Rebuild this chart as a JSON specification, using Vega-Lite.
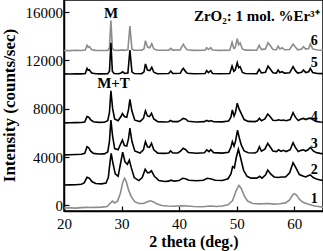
{
  "$schema": "https://vega.github.io/schema/vega-lite/v6.json",
  "autosize": "none",
  "width": 259,
  "height": 211,
  "padding": {"left": 64, "top": 0, "right": 0, "bottom": 40},
  "background": "white",
  "config": {
    "view": {"stroke": "#000", "strokeWidth": 1.5},
    "font": "Liberation Serif",
    "axis": {
      "domainColor": "#000", "domainWidth": 1.5, "tickColor": "#000", "tickWidth": 1.2, "tickSize": -5,
      "labelFont": "Liberation Serif", "labelFontSize": 15, "labelColor": "#000",
      "titleFont": "Liberation Serif", "titleFontSize": 16, "titleFontWeight": "bold", "titleColor": "#000",
      "grid": false, "labelOverlap": false, "labelFlush": false
    }
  },
  "datasets": {
    "xrd": [
      {"s":"6","x":20,"y":12820},{"s":"6","x":21,"y":12810},{"s":"6","x":22,"y":12835},{"s":"6","x":23,"y":12820},{"s":"6","x":23.7,"y":12850},{"s":"6","x":24.0,"y":13250},{"s":"6","x":24.2,"y":13100},{"s":"6","x":24.4,"y":13150},{"s":"6","x":24.8,"y":12880},{"s":"6","x":25.5,"y":12830},{"s":"6","x":26.5,"y":12820},{"s":"6","x":27.6,"y":12830},{"s":"6","x":27.9,"y":13000},{"s":"6","x":28.15,"y":15300},{"s":"6","x":28.4,"y":13000},{"s":"6","x":28.7,"y":12850},{"s":"6","x":29.5,"y":12830},{"s":"6","x":30.1,"y":12870},{"s":"6","x":30.4,"y":12830},{"s":"6","x":31.1,"y":12870},{"s":"6","x":31.45,"y":14850},{"s":"6","x":31.8,"y":12950},{"s":"6","x":32.2,"y":12840},{"s":"6","x":33.5,"y":12840},{"s":"6","x":33.9,"y":12950},{"s":"6","x":34.15,"y":13630},{"s":"6","x":34.5,"y":13100},{"s":"6","x":34.9,"y":13050},{"s":"6","x":35.25,"y":13380},{"s":"6","x":35.6,"y":12950},{"s":"6","x":36.2,"y":12840},{"s":"6","x":38.2,"y":12850},{"s":"6","x":38.55,"y":13000},{"s":"6","x":38.9,"y":12850},{"s":"6","x":40.2,"y":12870},{"s":"6","x":40.5,"y":13150},{"s":"6","x":40.75,"y":13330},{"s":"6","x":41.0,"y":13100},{"s":"6","x":41.4,"y":12880},{"s":"6","x":42.5,"y":12830},{"s":"6","x":44.5,"y":12850},{"s":"6","x":44.8,"y":13050},{"s":"6","x":45.1,"y":12900},{"s":"6","x":45.5,"y":13050},{"s":"6","x":45.8,"y":12860},{"s":"6","x":47,"y":12830},{"s":"6","x":48.8,"y":12850},{"s":"6","x":49.2,"y":13500},{"s":"6","x":49.5,"y":13000},{"s":"6","x":49.75,"y":13050},{"s":"6","x":50.1,"y":13800},{"s":"6","x":50.35,"y":13300},{"s":"6","x":50.6,"y":13450},{"s":"6","x":51.0,"y":12950},{"s":"6","x":51.5,"y":12850},{"s":"6","x":53.5,"y":12840},{"s":"6","x":53.9,"y":13250},{"s":"6","x":54.3,"y":12900},{"s":"6","x":55.0,"y":12950},{"s":"6","x":55.45,"y":13450},{"s":"6","x":55.8,"y":13250},{"s":"6","x":56.3,"y":12900},{"s":"6","x":56.9,"y":12880},{"s":"6","x":57.2,"y":13180},{"s":"6","x":57.5,"y":12950},{"s":"6","x":57.9,"y":13050},{"s":"6","x":58.3,"y":12880},{"s":"6","x":59.2,"y":12900},{"s":"6","x":59.8,"y":13350},{"s":"6","x":60.2,"y":13100},{"s":"6","x":60.6,"y":12880},{"s":"6","x":61.3,"y":12950},{"s":"6","x":61.6,"y":13130},{"s":"6","x":62.0,"y":12930},{"s":"6","x":62.5,"y":12980},{"s":"6","x":62.8,"y":13350},{"s":"6","x":63.2,"y":12950},{"s":"6","x":64,"y":12860},{"s":"6","x":65,"y":12840},

      {"s":"5","x":20,"y":10880},{"s":"5","x":21,"y":10870},{"s":"5","x":22,"y":10890},{"s":"5","x":23,"y":10880},{"s":"5","x":23.7,"y":10920},{"s":"5","x":24.0,"y":11340},{"s":"5","x":24.2,"y":11180},{"s":"5","x":24.4,"y":11220},{"s":"5","x":24.8,"y":10950},{"s":"5","x":25.5,"y":10890},{"s":"5","x":26.5,"y":10880},{"s":"5","x":27.6,"y":10900},{"s":"5","x":27.9,"y":11100},{"s":"5","x":28.15,"y":13460},{"s":"5","x":28.4,"y":11100},{"s":"5","x":28.7,"y":10920},{"s":"5","x":29.5,"y":10900},{"s":"5","x":29.9,"y":10960},{"s":"5","x":30.2,"y":11060},{"s":"5","x":30.5,"y":10930},{"s":"5","x":31.1,"y":10960},{"s":"5","x":31.45,"y":12860},{"s":"5","x":31.8,"y":11050},{"s":"5","x":32.2,"y":10910},{"s":"5","x":33.5,"y":10900},{"s":"5","x":33.9,"y":11050},{"s":"5","x":34.15,"y":11700},{"s":"5","x":34.5,"y":11200},{"s":"5","x":34.9,"y":11150},{"s":"5","x":35.25,"y":11430},{"s":"5","x":35.6,"y":11020},{"s":"5","x":36.2,"y":10900},{"s":"5","x":38.2,"y":10910},{"s":"5","x":38.55,"y":11120},{"s":"5","x":38.9,"y":10920},{"s":"5","x":40.2,"y":10930},{"s":"5","x":40.5,"y":11200},{"s":"5","x":40.75,"y":11340},{"s":"5","x":41.0,"y":11150},{"s":"5","x":41.4,"y":10940},{"s":"5","x":42.5,"y":10890},{"s":"5","x":44.5,"y":10910},{"s":"5","x":44.8,"y":11150},{"s":"5","x":45.1,"y":10980},{"s":"5","x":45.5,"y":11150},{"s":"5","x":45.8,"y":10920},{"s":"5","x":47,"y":10890},{"s":"5","x":48.8,"y":10910},{"s":"5","x":49.2,"y":11530},{"s":"5","x":49.5,"y":11100},{"s":"5","x":49.75,"y":11200},{"s":"5","x":50.1,"y":11810},{"s":"5","x":50.35,"y":11400},{"s":"5","x":50.6,"y":11480},{"s":"5","x":51.0,"y":11000},{"s":"5","x":51.5,"y":10910},{"s":"5","x":53.5,"y":10900},{"s":"5","x":53.9,"y":11260},{"s":"5","x":54.3,"y":10960},{"s":"5","x":55.0,"y":11020},{"s":"5","x":55.45,"y":11530},{"s":"5","x":55.8,"y":11300},{"s":"5","x":56.3,"y":10970},{"s":"5","x":56.9,"y":10950},{"s":"5","x":57.2,"y":11200},{"s":"5","x":57.5,"y":11000},{"s":"5","x":57.9,"y":11060},{"s":"5","x":58.3,"y":10950},{"s":"5","x":59.2,"y":10970},{"s":"5","x":59.8,"y":11480},{"s":"5","x":60.2,"y":11150},{"s":"5","x":60.6,"y":10950},{"s":"5","x":61.3,"y":11020},{"s":"5","x":61.6,"y":11200},{"s":"5","x":62.0,"y":10990},{"s":"5","x":62.5,"y":11050},{"s":"5","x":62.8,"y":11340},{"s":"5","x":63.2,"y":11000},{"s":"5","x":64,"y":10920},{"s":"5","x":65,"y":10900},

      {"s":"4","x":20,"y":6830},{"s":"4","x":21,"y":6840},{"s":"4","x":22,"y":6850},{"s":"4","x":23,"y":6860},{"s":"4","x":23.6,"y":6900},{"s":"4","x":24.0,"y":7350},{"s":"4","x":24.3,"y":7300},{"s":"4","x":24.6,"y":7100},{"s":"4","x":25.1,"y":6920},{"s":"4","x":26,"y":6870},{"s":"4","x":27,"y":6880},{"s":"4","x":27.6,"y":7000},{"s":"4","x":27.9,"y":7700},{"s":"4","x":28.15,"y":9490},{"s":"4","x":28.45,"y":8000},{"s":"4","x":28.8,"y":7150},{"s":"4","x":29.4,"y":7000},{"s":"4","x":29.9,"y":7350},{"s":"4","x":30.15,"y":7600},{"s":"4","x":30.5,"y":7350},{"s":"4","x":30.9,"y":7300},{"s":"4","x":31.2,"y":7900},{"s":"4","x":31.45,"y":8780},{"s":"4","x":31.8,"y":7800},{"s":"4","x":32.3,"y":7050},{"s":"4","x":33.2,"y":6930},{"s":"4","x":33.8,"y":7200},{"s":"4","x":34.15,"y":7830},{"s":"4","x":34.5,"y":7400},{"s":"4","x":34.85,"y":7350},{"s":"4","x":35.2,"y":7620},{"s":"4","x":35.6,"y":7150},{"s":"4","x":36.3,"y":6930},{"s":"4","x":37.5,"y":6900},{"s":"4","x":38.2,"y":6920},{"s":"4","x":38.5,"y":7020},{"s":"4","x":38.9,"y":6930},{"s":"4","x":39.8,"y":6930},{"s":"4","x":40.3,"y":7050},{"s":"4","x":40.7,"y":7200},{"s":"4","x":41.1,"y":7150},{"s":"4","x":41.6,"y":6960},{"s":"4","x":43,"y":6900},{"s":"4","x":44.4,"y":6930},{"s":"4","x":44.8,"y":7030},{"s":"4","x":45.2,"y":6950},{"s":"4","x":45.5,"y":7020},{"s":"4","x":46,"y":6920},{"s":"4","x":47.5,"y":6910},{"s":"4","x":48.6,"y":6980},{"s":"4","x":49.0,"y":7300},{"s":"4","x":49.25,"y":7890},{"s":"4","x":49.55,"y":7400},{"s":"4","x":49.8,"y":7700},{"s":"4","x":50.1,"y":8450},{"s":"4","x":50.4,"y":8000},{"s":"4","x":50.8,"y":7600},{"s":"4","x":51.3,"y":7100},{"s":"4","x":52,"y":6950},{"s":"4","x":53.2,"y":6930},{"s":"4","x":53.6,"y":7000},{"s":"4","x":53.95,"y":7200},{"s":"4","x":54.3,"y":7000},{"s":"4","x":54.9,"y":7150},{"s":"4","x":55.4,"y":7560},{"s":"4","x":55.8,"y":7350},{"s":"4","x":56.3,"y":7050},{"s":"4","x":56.9,"y":7020},{"s":"4","x":57.3,"y":7080},{"s":"4","x":57.7,"y":7020},{"s":"4","x":58.1,"y":7060},{"s":"4","x":58.6,"y":7000},{"s":"4","x":59.3,"y":7100},{"s":"4","x":59.8,"y":7670},{"s":"4","x":60.2,"y":7300},{"s":"4","x":60.7,"y":7020},{"s":"4","x":61.2,"y":7150},{"s":"4","x":61.6,"y":7200},{"s":"4","x":62,"y":7100},{"s":"4","x":62.4,"y":7180},{"s":"4","x":62.8,"y":7220},{"s":"4","x":63.3,"y":7080},{"s":"4","x":63.8,"y":6950},{"s":"4","x":64.5,"y":6900},{"s":"4","x":65,"y":6880},

      {"s":"3","x":20,"y":4180},{"s":"3","x":21,"y":4190},{"s":"3","x":22,"y":4210},{"s":"3","x":23,"y":4230},{"s":"3","x":23.6,"y":4300},{"s":"3","x":24.0,"y":4850},{"s":"3","x":24.3,"y":4760},{"s":"3","x":24.6,"y":4500},{"s":"3","x":25.1,"y":4300},{"s":"3","x":26,"y":4250},{"s":"3","x":27,"y":4260},{"s":"3","x":27.6,"y":4420},{"s":"3","x":27.9,"y":5300},{"s":"3","x":28.15,"y":7060},{"s":"3","x":28.45,"y":5700},{"s":"3","x":28.8,"y":4700},{"s":"3","x":29.4,"y":4600},{"s":"3","x":29.85,"y":5100},{"s":"3","x":30.15,"y":5400},{"s":"3","x":30.5,"y":4950},{"s":"3","x":30.9,"y":4900},{"s":"3","x":31.2,"y":5500},{"s":"3","x":31.45,"y":6400},{"s":"3","x":31.8,"y":5300},{"s":"3","x":32.3,"y":4500},{"s":"3","x":33.2,"y":4330},{"s":"3","x":33.8,"y":4600},{"s":"3","x":34.15,"y":5270},{"s":"3","x":34.5,"y":4850},{"s":"3","x":34.85,"y":4800},{"s":"3","x":35.2,"y":5130},{"s":"3","x":35.6,"y":4600},{"s":"3","x":36.3,"y":4320},{"s":"3","x":37.5,"y":4300},{"s":"3","x":38.2,"y":4330},{"s":"3","x":38.5,"y":4500},{"s":"3","x":38.9,"y":4340},{"s":"3","x":39.8,"y":4330},{"s":"3","x":40.3,"y":4500},{"s":"3","x":40.7,"y":4720},{"s":"3","x":41.1,"y":4620},{"s":"3","x":41.6,"y":4380},{"s":"3","x":43,"y":4310},{"s":"3","x":44.4,"y":4350},{"s":"3","x":44.8,"y":4600},{"s":"3","x":45.2,"y":4450},{"s":"3","x":45.5,"y":4600},{"s":"3","x":46,"y":4360},{"s":"3","x":47.5,"y":4320},{"s":"3","x":48.6,"y":4400},{"s":"3","x":49.0,"y":4800},{"s":"3","x":49.25,"y":5270},{"s":"3","x":49.55,"y":4900},{"s":"3","x":49.8,"y":5300},{"s":"3","x":50.15,"y":6230},{"s":"3","x":50.45,"y":5600},{"s":"3","x":50.8,"y":5000},{"s":"3","x":51.3,"y":4500},{"s":"3","x":52,"y":4350},{"s":"3","x":53.2,"y":4330},{"s":"3","x":53.6,"y":4450},{"s":"3","x":53.95,"y":4850},{"s":"3","x":54.3,"y":4480},{"s":"3","x":54.9,"y":4650},{"s":"3","x":55.4,"y":5130},{"s":"3","x":55.8,"y":4850},{"s":"3","x":56.3,"y":4500},{"s":"3","x":56.9,"y":4450},{"s":"3","x":57.3,"y":4600},{"s":"3","x":57.7,"y":4470},{"s":"3","x":58.1,"y":4550},{"s":"3","x":58.6,"y":4450},{"s":"3","x":59.3,"y":4600},{"s":"3","x":59.8,"y":5180},{"s":"3","x":60.2,"y":4800},{"s":"3","x":60.7,"y":4450},{"s":"3","x":61.2,"y":4550},{"s":"3","x":61.6,"y":4600},{"s":"3","x":62,"y":4500},{"s":"3","x":62.4,"y":4600},{"s":"3","x":62.8,"y":4800},{"s":"3","x":63.3,"y":4500},{"s":"3","x":63.8,"y":4380},{"s":"3","x":64.5,"y":4300},{"s":"3","x":65,"y":4280},

      {"s":"2","x":20,"y":1680},{"s":"2","x":21,"y":1690},{"s":"2","x":22,"y":1700},{"s":"2","x":23,"y":1740},{"s":"2","x":23.5,"y":1850},{"s":"2","x":24.0,"y":2320},{"s":"2","x":24.4,"y":2250},{"s":"2","x":24.9,"y":1950},{"s":"2","x":25.5,"y":1800},{"s":"2","x":26.5,"y":1780},{"s":"2","x":27.3,"y":1850},{"s":"2","x":27.7,"y":2300},{"s":"2","x":28.0,"y":3600},{"s":"2","x":28.2,"y":4300},{"s":"2","x":28.5,"y":3500},{"s":"2","x":28.9,"y":2600},{"s":"2","x":29.4,"y":2400},{"s":"2","x":29.8,"y":3400},{"s":"2","x":30.2,"y":4400},{"s":"2","x":30.6,"y":3600},{"s":"2","x":31.0,"y":3400},{"s":"2","x":31.35,"y":3750},{"s":"2","x":31.7,"y":3100},{"s":"2","x":32.2,"y":2300},{"s":"2","x":33.0,"y":2050},{"s":"2","x":33.6,"y":2300},{"s":"2","x":34.1,"y":2980},{"s":"2","x":34.5,"y":2700},{"s":"2","x":34.8,"y":2700},{"s":"2","x":35.2,"y":2860},{"s":"2","x":35.7,"y":2400},{"s":"2","x":36.5,"y":2050},{"s":"2","x":37.5,"y":1970},{"s":"2","x":38.2,"y":2000},{"s":"2","x":38.6,"y":2080},{"s":"2","x":39.1,"y":2000},{"s":"2","x":40,"y":2050},{"s":"2","x":40.6,"y":2240},{"s":"2","x":41.1,"y":2200},{"s":"2","x":41.7,"y":2080},{"s":"2","x":43,"y":2030},{"s":"2","x":44.2,"y":2080},{"s":"2","x":44.9,"y":2240},{"s":"2","x":45.6,"y":2180},{"s":"2","x":46.3,"y":2080},{"s":"2","x":47.5,"y":2060},{"s":"2","x":48.5,"y":2200},{"s":"2","x":49.0,"y":2600},{"s":"2","x":49.3,"y":3200},{"s":"2","x":49.6,"y":3100},{"s":"2","x":49.95,"y":4000},{"s":"2","x":50.3,"y":4640},{"s":"2","x":50.7,"y":3900},{"s":"2","x":51.2,"y":2900},{"s":"2","x":51.8,"y":2400},{"s":"2","x":52.5,"y":2250},{"s":"2","x":53.5,"y":2250},{"s":"2","x":54.0,"y":2400},{"s":"2","x":54.4,"y":2250},{"s":"2","x":55.0,"y":2500},{"s":"2","x":55.4,"y":2920},{"s":"2","x":55.9,"y":2600},{"s":"2","x":56.5,"y":2350},{"s":"2","x":57.2,"y":2300},{"s":"2","x":57.8,"y":2350},{"s":"2","x":58.5,"y":2350},{"s":"2","x":59.2,"y":2700},{"s":"2","x":59.8,"y":3530},{"s":"2","x":60.3,"y":3100},{"s":"2","x":60.9,"y":2550},{"s":"2","x":61.5,"y":2430},{"s":"2","x":62.0,"y":2350},{"s":"2","x":62.4,"y":2450},{"s":"2","x":62.8,"y":2510},{"s":"2","x":63.3,"y":2300},{"s":"2","x":64,"y":2150},{"s":"2","x":65,"y":2050},

      {"s":"1","x":20,"y":-220},{"s":"1","x":21,"y":-200},{"s":"1","x":22,"y":-230},{"s":"1","x":23,"y":-190},{"s":"1","x":24,"y":-170},{"s":"1","x":24.5,"y":-180},{"s":"1","x":25.5,"y":-170},{"s":"1","x":26.5,"y":-150},{"s":"1","x":27.5,"y":-100},{"s":"1","x":28.0,"y":150},{"s":"1","x":28.4,"y":350},{"s":"1","x":28.8,"y":200},{"s":"1","x":29.3,"y":350},{"s":"1","x":29.8,"y":1000},{"s":"1","x":30.2,"y":1900},{"s":"1","x":30.5,"y":2240},{"s":"1","x":30.8,"y":2000},{"s":"1","x":31.2,"y":1300},{"s":"1","x":31.7,"y":700},{"s":"1","x":32.3,"y":300},{"s":"1","x":33.0,"y":150},{"s":"1","x":33.8,"y":150},{"s":"1","x":34.5,"y":300},{"s":"1","x":35.0,"y":380},{"s":"1","x":35.5,"y":300},{"s":"1","x":36.2,"y":100},{"s":"1","x":37,"y":-20},{"s":"1","x":38,"y":-60},{"s":"1","x":39,"y":-80},{"s":"1","x":40.5,"y":-30},{"s":"1","x":41.5,"y":-60},{"s":"1","x":42.5,"y":-100},{"s":"1","x":44,"y":-120},{"s":"1","x":45.5,"y":-60},{"s":"1","x":46.5,"y":-100},{"s":"1","x":47.5,"y":-50},{"s":"1","x":48.5,"y":50},{"s":"1","x":49.3,"y":400},{"s":"1","x":49.9,"y":1200},{"s":"1","x":50.4,"y":1650},{"s":"1","x":50.8,"y":1400},{"s":"1","x":51.3,"y":800},{"s":"1","x":51.9,"y":350},{"s":"1","x":52.8,"y":150},{"s":"1","x":54,"y":120},{"s":"1","x":55.5,"y":150},{"s":"1","x":56.5,"y":100},{"s":"1","x":57.5,"y":130},{"s":"1","x":58.5,"y":200},{"s":"1","x":59.2,"y":450},{"s":"1","x":59.7,"y":850},{"s":"1","x":60.0,"y":960},{"s":"1","x":60.4,"y":850},{"s":"1","x":60.9,"y":500},{"s":"1","x":61.5,"y":250},{"s":"1","x":62.5,"y":80},{"s":"1","x":63.5,"y":-50},{"s":"1","x":64.2,"y":-100},{"s":"1","x":65,"y":-150}
    ],
    "nums": [
      {"x":63.5,"y":13600,"t":"6"},{"x":63.5,"y":11750,"t":"5"},{"x":63.5,"y":7300,"t":"4"},{"x":63.5,"y":5070,"t":"3"},{"x":63.5,"y":2920,"t":"2"},{"x":63.5,"y":500,"t":"1"}
    ],
    "notes": [
      {"x":28.2,"y":15900,"t":"M"},
      {"x":28.6,"y":10100,"t":"M+T"}
    ],
    "title": [
      {"x":64.4,"y":15700,"t":"ZrO₂: 1 mol. %Er³⁺"}
    ]
  },
  "layer": [
    {
      "data": {"name": "xrd"},
      "mark": {"type": "line", "strokeWidth": 1.6, "clip": true},
      "encoding": {
        "x": {"field": "x", "type": "quantitative",
              "scale": {"domain": [20, 65], "nice": false, "zero": false},
              "axis": {"title": "2 theta (deg.)", "values": [20,25,30,35,40,45,50,55,60,65],
                       "labelExpr": "datum.value % 10 == 0 ? datum.label : ''",
                       "labelPadding": 10, "titleY": 35, "titleBaseline": "alphabetic"}},
        "y": {"field": "y", "type": "quantitative",
              "scale": {"domain": [-470, 17000], "nice": false, "zero": false},
              "axis": {"title": "Intensity (counts/sec)", "format": "d",
                       "values": [0,2000,4000,6000,8000,10000,12000,14000,16000],
                       "labelExpr": "datum.value % 4000 == 0 ? datum.label : ''",
                       "labelPadding": 6.5, "titleX": -50, "titleY": 105, "titleBaseline": "alphabetic", "titleFontSize": 17}},
        "color": {"field": "s", "type": "nominal", "legend": null,
                  "scale": {"domain": ["1","2","3","4","5","6"], "range": ["#8c8c8c","#000000","#000000","#000000","#000000","#8c8c8c"]}},
        "detail": {"field": "s"}
      }
    },
    {
      "data": {"name": "nums"},
      "mark": {"type": "text", "fontWeight": "bold", "fontSize": 14, "font": "Liberation Serif", "align": "center", "baseline": "middle", "color": "#000"},
      "encoding": {
        "x": {"field": "x", "type": "quantitative"},
        "y": {"field": "y", "type": "quantitative"},
        "text": {"field": "t"}
      }
    },
    {
      "data": {"name": "notes"},
      "mark": {"type": "text", "fontWeight": "bold", "fontSize": 15, "font": "Liberation Serif", "align": "center", "baseline": "middle", "color": "#000"},
      "encoding": {
        "x": {"field": "x", "type": "quantitative"},
        "y": {"field": "y", "type": "quantitative"},
        "text": {"field": "t"}
      }
    },
    {
      "data": {"name": "title"},
      "mark": {"type": "text", "fontWeight": "bold", "fontSize": 15, "font": "Liberation Serif", "align": "right", "baseline": "middle", "color": "#000"},
      "encoding": {
        "x": {"field": "x", "type": "quantitative"},
        "y": {"field": "y", "type": "quantitative"},
        "text": {"field": "t"}
      }
    }
  ]
}
